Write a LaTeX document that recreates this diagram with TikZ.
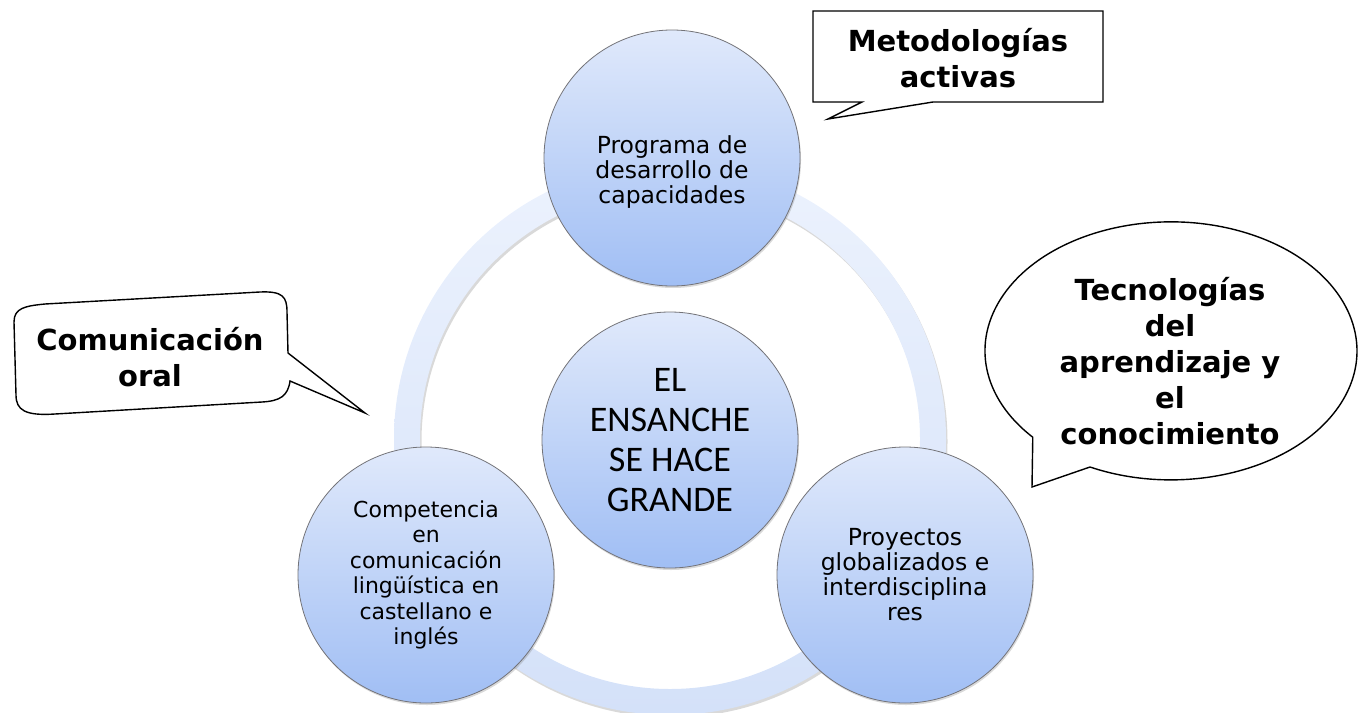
\documentclass[tikz,border=0pt]{standalone}
\usepackage{fontspec}
\setmainfont{DejaVu Sans}
\newfontfamily\calibfont{Carlito}
\usetikzlibrary{shadows}
\definecolor{discTop}{RGB}{224,233,251}
\definecolor{discBot}{RGB}{160,190,244}
\definecolor{ringTop}{RGB}{236,242,253}
\definecolor{ringBot}{RGB}{212,225,249}
\definecolor{discLine}{RGB}{115,115,120}
\begin{document}
\begin{tikzpicture}[x=1pt,y=-1pt,
	disc/.style={circle,draw=discLine,line width=0.8pt,top color=discTop,bottom color=discBot,minimum size=256pt,inner sep=0pt,align=center,drop shadow={opacity=0.3,shadow xshift=1pt,shadow yshift=-2pt}},
	disctext/.style={align=center,font=\fontsize{22}{25.5}\selectfont},
	bigtext/.style={align=center,font=\fontsize{23.5}{25}\selectfont},
	calltext/.style={align=center,font=\fontsize{29}{36}\selectfont\bfseries},
	callline/.style={draw=black,line width=1.4pt,line join=miter}]
	\useasboundingbox (0,0) rectangle (1359,712);
	% ring behind the discs
	\path[even odd rule,fill=black,opacity=0.15] (671.5,441.5) circle[radius=276] (671.5,441.5) circle[radius=250];
	\path[even odd rule,top color=ringTop,bottom color=ringBot] (670,439) circle[radius=276] (670,439) circle[radius=250];
	% discs
	\node[disc](prog) at (672,158){};
	\node[bigtext](progtxt) at ([yshift=-14pt]prog.center){Programa de\\desarrollo de\\capacidades};
	\node[disc,font=\calibfont\fontsize{36}{40}\selectfont](ensanche) at (670,440){EL\\ENSANCHE\\SE HACE\\GRANDE};
	\node[disc,disctext](compet) at (426,575){Competencia\\en\\comunicación\\lingüística en\\castellano e\\inglés};
	\node[disc,bigtext](proy) at (905,575){Proyectos\\globalizados e\\interdisciplina\\res};
	% callouts
	\draw[callline,fill=white] (813,11) -- (1103,11) -- (1103,102) -- (933,102) -- (828,119) -- (862,102) -- (813,102) -- cycle;
	\node[calltext](metod) at (958,58){Metodologías\\activas};
	\draw[callline,fill=white] (14,322) .. controls (14,308) and (25,306) .. (45,304) -- (260,292)
		.. controls (283,291) and (287,297) .. (287,312) -- (288,353) -- (365,413) -- (290,381)
		.. controls (288,396) and (280,401) .. (262,402) -- (55,414)
		.. controls (25,416) and (16,410) .. (16,395) -- cycle;
	\node[calltext](comun) at (150,357){Comunicación\\oral};
	\coordinate(tec) at (1171,351);
	\draw[callline,fill=white] (tec) ++(138:186 and 129) -- (1032,487) -- ++(58,-20)
		arc[start angle=115.8,end angle=-222,x radius=186,y radius=129] -- cycle;
	\node[calltext](tecno) at (1170,361){Tecnologías\\del\\aprendizaje y\\el\\conocimiento};
\end{tikzpicture}
\end{document}
